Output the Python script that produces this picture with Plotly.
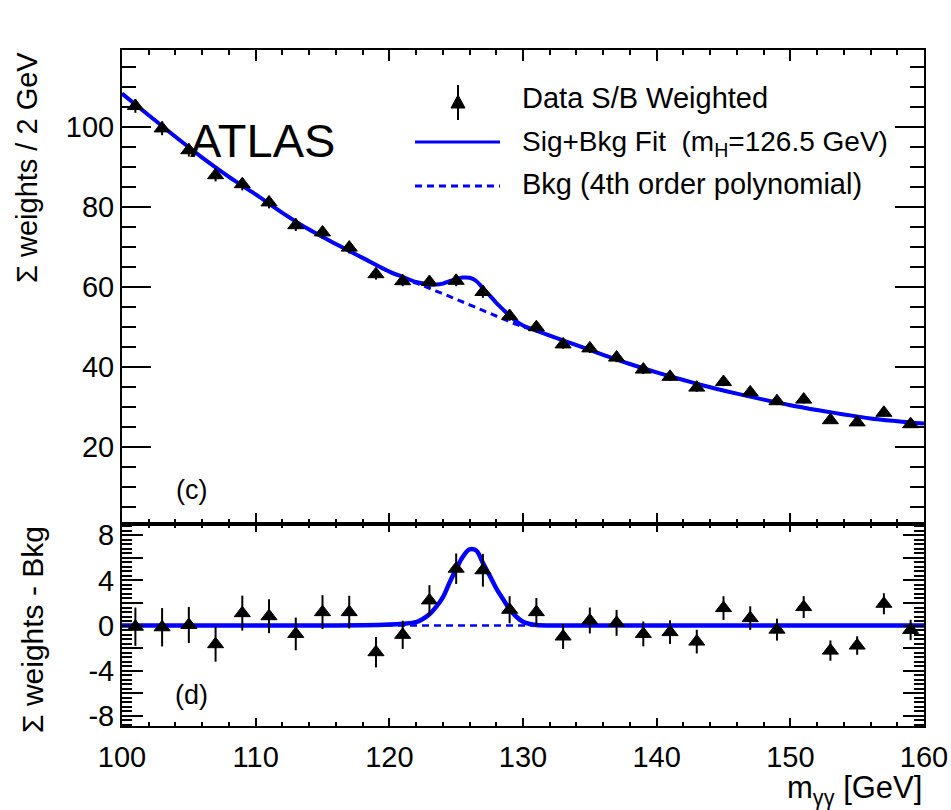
import plotly.graph_objects as go

# ---------------- data ----------------
data_x = [101, 103, 105, 107, 109, 111, 113, 115, 117, 119, 121, 123, 125, 127, 129,
          131, 133, 135, 137, 139, 141, 143, 145, 147, 149, 151, 153, 155, 157, 159]
data_y = [105.3, 99.7, 94.25, 88.0, 85.75, 81.2, 75.5, 73.7, 69.9, 63.25, 61.5, 61.3, 61.6,
          58.8, 52.8, 50.0, 45.7, 44.7, 42.4, 39.4, 37.6, 34.9, 36.3, 33.7, 31.5, 31.9,
          26.75, 26.2, 28.6, 25.75]
resid_y = [-0.1, -0.15, 0.05, -1.65, 1.1, 0.83, -0.74, 1.19, 1.19, -2.36, -0.82, 2.23, 5.04,
           4.9, 1.4, 1.19, -0.97, 0.45, 0.24, -0.74, -0.58, -1.42, 1.55, 0.66, -0.36, 1.64,
           -2.22, -1.77, 1.93, -0.39]
data_err = [1.7, 1.7, 1.6, 1.55, 1.55, 1.5, 1.45, 1.5, 1.45, 1.35, 1.25, 1.35, 1.35, 1.45, 1.2,
            1.25, 1.1, 1.15, 1.15, 1.1, 1.05, 1.05, 1.05, 1.05, 0.97, 0.97, 0.9, 0.82, 0.93, 0.9]

curve_x = [100, 102, 104, 106, 108, 110, 112, 114, 116, 118, 120, 121,
           122, 122.5, 123, 123.5, 124, 124.5, 125, 125.5, 126, 126.5, 127, 127.5,
           128, 128.5, 129, 129.5, 130, 130.5, 131,
           132, 134, 136, 138, 140, 142, 144, 146, 148, 150, 152, 154, 156, 158, 160]
bkg_y = [108.4, 103.0, 97.6, 92.4, 87.6, 83.2, 78.6, 74.4, 70.8, 67.3, 63.8, 62.4,
         61.0, 60.4, 59.7, 59.0, 58.4, 57.7, 57.0, 56.3, 55.6, 54.9, 54.2, 53.5,
         52.8, 52.1, 51.4, 50.7, 50.1, 49.6, 49.1,
         47.9, 45.5, 43.1, 40.8, 38.7, 36.8, 35.0, 33.4, 31.9, 30.5, 29.3, 28.2, 27.2, 26.5, 25.9]
sig_y = [0, 0, 0, 0, 0, 0, 0, 0, 0, 0.03, 0.1, 0.17,
         0.3, 0.58, 1.0, 1.65, 2.5, 3.8, 5.0, 6.1, 6.75, 6.65, 5.55, 4.45,
         3.3, 2.35, 1.45, 0.78, 0.34, 0.14, 0.05,
         0.01, 0, 0, 0, 0, 0, 0, 0, 0, 0, 0, 0, 0, 0, 0]
fit_y = [b + s for b, s in zip(bkg_y, sig_y)]
zero_y = [b - b for b in bkg_y]

x_ticks = [100, 110, 120, 130, 140, 150, 160]
y2_tickvals = [-8, -6, -4, -2, 0, 2, 4, 6, 8]
y2_ticktext = ["-8", "", "-4", "", "0", "", "4", "", "8"]

# ---------------- layout helpers ----------------
W, H = 951, 810
L, R, T, B = 122, 27, 50, 84
PW, PH = W - L - R, H - T - B
SPLIT = (H - B - 524) / PH


def px(x):
    return (x - L) / PW


def py(y):
    return (H - B - y) / PH


BLUE = "#0000ff"
FONT = "Liberation Sans, Arial, Helvetica, sans-serif"

fig = go.Figure()

# top panel
fig.add_trace(go.Scatter(x=curve_x, y=bkg_y, mode="lines", line=dict(color=BLUE, width=3, dash="7px,5px"),
                         line_shape="spline", xaxis="x", yaxis="y", showlegend=False, hoverinfo="skip"))
fig.add_trace(go.Scatter(x=curve_x, y=fit_y, mode="lines", line=dict(color=BLUE, width=4),
                         line_shape="spline", xaxis="x", yaxis="y", showlegend=False, hoverinfo="skip"))
fig.add_trace(go.Scatter(x=data_x, y=data_y, mode="markers",
                         marker=dict(symbol="triangle-up", size=14, color="black", line=dict(color="black", width=1)),
                         error_y=dict(type="data", array=data_err, color="black", thickness=2, width=0),
                         xaxis="x", yaxis="y", showlegend=False))

# bottom panel
fig.add_trace(go.Scatter(x=curve_x, y=zero_y, mode="lines", line=dict(color=BLUE, width=2.5, dash="7px,5px"),
                         xaxis="x2", yaxis="y2", showlegend=False, hoverinfo="skip"))
fig.add_trace(go.Scatter(x=curve_x, y=sig_y, mode="lines", line=dict(color=BLUE, width=4.5),
                         line_shape="spline", xaxis="x2", yaxis="y2", showlegend=False, hoverinfo="skip"))
fig.add_trace(go.Scatter(x=data_x, y=resid_y, mode="markers",
                         marker=dict(symbol="triangle-up", size=14, color="black", line=dict(color="black", width=1)),
                         error_y=dict(type="data", array=data_err, color="black", thickness=2, width=0),
                         xaxis="x2", yaxis="y2", showlegend=False))

axis_common = dict(showline=True, linecolor="black", linewidth=2, mirror="allticks", ticks="inside",
                   tickcolor="black", tickwidth=2, showgrid=False, zeroline=False, automargin=False,
                   tickfont=dict(family=FONT, size=29, color="black"))

fig.update_layout(
    width=W, height=H, margin=dict(l=L, r=R, t=T, b=B, autoexpand=False),
    paper_bgcolor="white", plot_bgcolor="white",
    xaxis=dict(axis_common, domain=[0, 1], anchor="y", range=[100, 160], tickvals=x_ticks,
               showticklabels=False, ticklen=11,
               minor=dict(dtick=2, tick0=100, ticklen=5, ticks="inside", tickcolor="black", tickwidth=2)),
    yaxis=dict(axis_common, domain=[SPLIT, 1], anchor="x", range=[0.8, 119.3], dtick=20, tick0=0,
               ticklen=29,
               minor=dict(dtick=5, tick0=0, ticklen=14, ticks="inside", tickcolor="black", tickwidth=2)),
    xaxis2=dict(axis_common, domain=[0, 1], anchor="y2", range=[100, 160], tickvals=x_ticks,
                ticklen=8, ticklabelstandoff=4,
                minor=dict(dtick=2, tick0=100, ticklen=4, ticks="inside", tickcolor="black", tickwidth=2)),
    yaxis2=dict(axis_common, domain=[0, SPLIT], anchor="x2", range=[-8.9, 9.0],
                tickmode="array", tickvals=y2_tickvals, ticktext=y2_ticktext, ticklen=21,
                minor=dict(dtick=0.4, tick0=0, ticklen=10, ticks="inside", tickcolor="black", tickwidth=1.5)),
)

ann = []
# axis titles
ann.append(dict(text="Σ weights / 2 GeV", x=px(27), y=py(168), textangle=-90, xanchor="center", yanchor="middle",
                font=dict(family=FONT, size=29, color="black")))
ann.append(dict(text="Σ weights - Bkg", x=px(32), y=py(630), textangle=-90, xanchor="center", yanchor="middle",
                font=dict(family=FONT, size=30, color="black")))
ann.append(dict(text="m<sub>γγ</sub> [GeV]", x=px(924), y=py(790), xanchor="right", yanchor="middle",
                font=dict(family=FONT, size=31, color="black")))
# labels
ann.append(dict(text="ATLAS", x=px(188), y=py(140), xanchor="left", yanchor="middle",
                font=dict(family=FONT, size=47, color="black")))
ann.append(dict(text="(c)", x=px(191), y=py(490), xanchor="center", yanchor="middle",
                font=dict(family=FONT, size=27, color="black")))
ann.append(dict(text="(d)", x=px(191), y=py(695), xanchor="center", yanchor="middle",
                font=dict(family=FONT, size=27, color="black")))
# legend texts
ann.append(dict(text="Data S/B Weighted", x=px(520), y=py(98), xanchor="left", yanchor="middle",
                font=dict(family=FONT, size=29, color="black")))
ann.append(dict(text="Sig+Bkg Fit\u00a0 (m<sub>H</sub>=126.5 GeV)", x=px(520), y=py(143), xanchor="left",
                yanchor="middle", font=dict(family=FONT, size=28, color="black")))
ann.append(dict(text="Bkg (4th order polynomial)", x=px(520), y=py(184), xanchor="left", yanchor="middle",
                font=dict(family=FONT, size=29, color="black")))
for a in ann:
    a.update(xref="paper", yref="paper", showarrow=False)
fig.update_layout(annotations=ann)

shapes = []
# legend symbols
shapes.append(dict(type="line", x0=px(458), x1=px(458), y0=py(85), y1=py(120), line=dict(color="black", width=2)))
tri = "M {:.5f},{:.5f} L {:.5f},{:.5f} L {:.5f},{:.5f} Z".format(px(451), py(108), px(465), py(108), px(458), py(95))
shapes.append(dict(type="path", path=tri, fillcolor="black", line=dict(color="black", width=1)))
shapes.append(dict(type="line", x0=px(415), x1=px(500), y0=py(142), y1=py(142), line=dict(color=BLUE, width=3)))
shapes.append(dict(type="line", x0=px(415), x1=px(500), y0=py(186), y1=py(186),
                   line=dict(color=BLUE, width=3, dash="7px,5px")))
for s in shapes:
    s.update(xref="paper", yref="paper")
fig.update_layout(shapes=shapes)

fig.write_html("out.html")
